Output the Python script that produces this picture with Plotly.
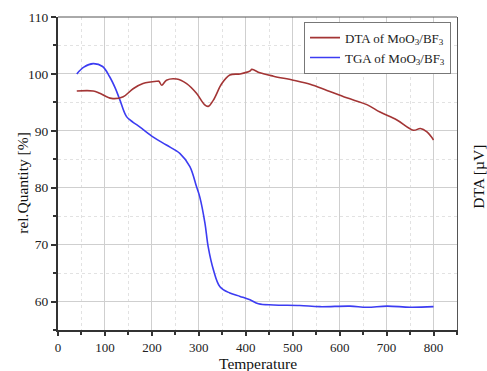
import plotly.graph_objects as go

# TGA of MoO3/BF3 (blue)
tga_t = [40, 55, 75, 95, 110, 122, 132, 146, 160, 174, 203, 231, 260, 281, 295, 302, 313,
         320, 331, 345, 366, 388, 409, 427, 459, 515, 558, 622, 658, 701, 750, 800]
tga_v = [100.0, 101.2, 101.8, 101.3, 99.5, 97.5, 95.4, 92.5, 91.5, 90.7, 88.9, 87.5, 86.0, 83.7,
         80.2, 78.4, 73.8, 69.6, 65.6, 62.6, 61.5, 60.9, 60.3, 59.6, 59.4, 59.3, 59.1, 59.2,
         59.0, 59.2, 59.0, 59.1]

# DTA of MoO3/BF3 (dark red)
dta_t = [40, 75, 89, 114, 139, 160, 181, 210, 215, 221, 231, 253, 274, 295, 312, 320, 331, 349,
         366, 388, 409, 413, 430, 459, 501, 537, 573, 615, 658, 686, 722, 757, 772, 786, 800]
dta_v = [97.0, 97.0, 96.6, 95.7, 96.0, 97.4, 98.3, 98.7, 98.7, 98.0, 98.9, 99.1, 98.3, 96.6,
         94.6, 94.3, 95.4, 98.3, 99.8, 100.0, 100.5, 100.8, 100.2, 99.6, 98.9, 98.2, 97.1,
         95.8, 94.6, 93.3, 91.9, 90.1, 90.4, 89.8, 88.4]

x_ticks = [0, 100, 200, 300, 400, 500, 600, 700, 800]
y_ticks = [60, 70, 80, 90, 100, 110]

FONT = "Liberation Serif, Times New Roman, serif"
TITLE_FONT = dict(family=FONT, size=15.5, color="#111")

fig = go.Figure()
fig.add_trace(go.Scatter(x=dta_t, y=dta_v, mode="lines", line=dict(color="#a33535", width=1.6),
                         line_shape="spline", name="DTA of MoO<sub>3</sub>/BF<sub>3</sub>", yaxis="y2"))
fig.add_trace(go.Scatter(x=tga_t, y=tga_v, mode="lines", line=dict(color="#3c3cf2", width=1.6),
                         line_shape="spline", name="TGA of MoO<sub>3</sub>/BF<sub>3</sub>"))

grid_major = "#cfcfcf"
grid_minor = "#e2e2e2"

fig.update_layout(
    width=487, height=371,
    margin=dict(l=58, r=30, t=17, b=41, autoexpand=False),
    paper_bgcolor="white", plot_bgcolor="white",
    font=dict(family=FONT, size=13, color="#222"),
    showlegend=True,
    legend=dict(x=0.985, y=0.985, xanchor="right", yanchor="top",
                bordercolor="#777", borderwidth=1, bgcolor="white",
                font=dict(family=FONT, size=13, color="#222"),
                tracegroupgap=0, itemwidth=30),
    xaxis=dict(range=[0, 850], tickvals=x_ticks, ticks="outside", ticklen=4, tickwidth=1.5,
               tickcolor="#333", showline=True, linewidth=2, linecolor="#333", automargin=False,
               showgrid=True, gridcolor=grid_major, gridwidth=1, zeroline=False,
               minor=dict(dtick=50, tick0=0, ticks="outside", ticklen=3, tickcolor="#333",
                          showgrid=True, gridcolor=grid_minor, griddash="dot"),
               tickfont=dict(family=FONT, size=13, color="#222")),
    yaxis=dict(range=[55, 110], tickvals=y_ticks, ticks="outside", ticklen=5, tickwidth=1.5,
               tickcolor="#333", showline=True, linewidth=2, linecolor="#333", automargin=False,
               showgrid=True, gridcolor=grid_major, gridwidth=1, zeroline=False,
               minor=dict(dtick=5, tick0=55, ticks="outside", ticklen=3, tickcolor="#333",
                          showgrid=True, gridcolor=grid_minor, griddash="dot"),
               tickfont=dict(family=FONT, size=13.5, color="#222")),
    yaxis2=dict(range=[55, 110], overlaying="y", side="right", showticklabels=False,
                ticks="", showgrid=False, zeroline=False, showline=True, linewidth=1,
                linecolor="#555", automargin=False),
)
fig.add_shape(type="line", xref="paper", yref="paper", x0=0, x1=1, y0=1, y1=1,
              line=dict(color="#555", width=1))

# axis titles
fig.add_annotation(text="Temperature", xref="paper", yref="paper", x=0.5, y=-0.108,
                   xanchor="center", yanchor="middle", showarrow=False, font=TITLE_FONT)
fig.add_annotation(text="rel.Quantity [%]", xref="paper", yref="paper", x=-0.088, y=0.47,
                   xanchor="center", yanchor="middle", showarrow=False, textangle=-90, font=TITLE_FONT)
fig.add_annotation(text="DTA [µV]", xref="paper", yref="paper", x=1.053, y=0.49,
                   xanchor="center", yanchor="middle", showarrow=False, textangle=-90, font=TITLE_FONT)

fig.write_html("out.html")
